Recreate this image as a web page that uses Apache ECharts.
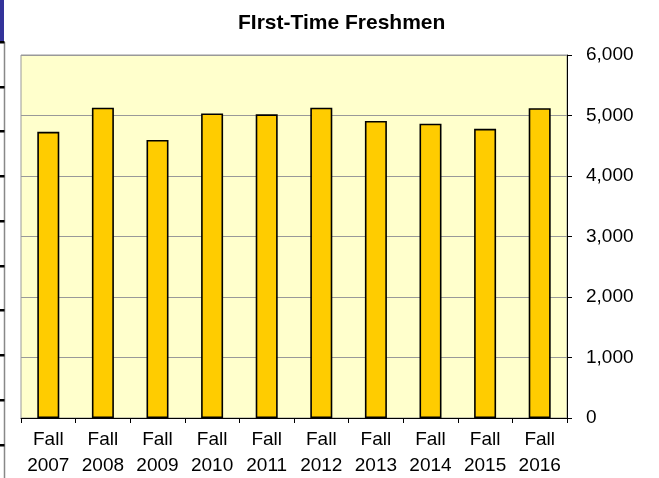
<!DOCTYPE html>
<html>
<head>
<meta charset="utf-8">
<script src="https://cdn.jsdelivr.net/npm/echarts@6/dist/echarts.min.js"></script>
<style>html,body{margin:0;padding:0;background:#fff}#c{width:659px;height:478px}</style>
</head>
<body>
<div id="c"></div>
<script>
const categories = ["Fall\n2007","Fall\n2008","Fall\n2009","Fall\n2010","Fall\n2011","Fall\n2012","Fall\n2013","Fall\n2014","Fall\n2015","Fall\n2016"];
const freshmen = [4730, 5130, 4595, 5035, 5020, 5130, 4910, 4865, 4780, 5120];
const yTicks = [0, 1000, 2000, 3000, 4000, 5000, 6000];
const leftTickYs = [42, 87, 131, 176, 221, 266, 310, 355, 400, 445];

const font = '"Liberation Sans", Arial, sans-serif';
const chart = echarts.init(document.getElementById('c'));
const deco = [
  {type:'rect', shape:{x:0,y:0,width:4,height:42}, style:{fill:'#33339a'}},
  {type:'line', shape:{x1:4.5,y1:42,x2:4.5,y2:478}, style:{stroke:'#888',lineWidth:1.5}}
];
leftTickYs.forEach(y => deco.push({type:'rect', shape:{x:0,y:y-1,width:4.5,height:2.5}, style:{fill:'#000'}}));

chart.setOption({
  animation:false,
  backgroundColor:'#fff',
  title:{text:'FIrst-Time Freshmen', left:233, top:8,
    textStyle:{fontFamily:font, fontSize:21, fontWeight:'bold', color:'#000'}},
  grid:{left:21, right:92, top:55, bottom:60, outerBoundsMode:'none', containLabel:false,
    show:true, backgroundColor:'#FFFFCC', borderColor:'#999', borderWidth:1},
  xAxis:{type:'category', data:categories, boundaryGap:true,
    axisLine:{lineStyle:{color:'#000', width:1}},
    axisTick:{show:true, length:5, lineStyle:{color:'#000'}},
    axisLabel:{fontFamily:font, fontSize:19, color:'#000', lineHeight:26, margin:9, interval:0}},
  yAxis:{type:'value', position:'right', min:yTicks[0], max:yTicks[yTicks.length-1], interval:1000,
    axisLine:{show:true, lineStyle:{color:'#000', width:1}},
    axisTick:{show:true, length:5, lineStyle:{color:'#000'}},
    splitLine:{lineStyle:{color:'#999', width:1}},
    axisLabel:{fontFamily:font, fontSize:19, color:'#000', margin:19,
      formatter:v => v.toLocaleString('en-US')}},
  series:[{type:'bar', data:freshmen, barWidth:22,
    itemStyle:{color:'#FFCC00', borderColor:'#000', borderWidth:1.6}}],
  graphic:deco
});
</script>
</body>
</html>
